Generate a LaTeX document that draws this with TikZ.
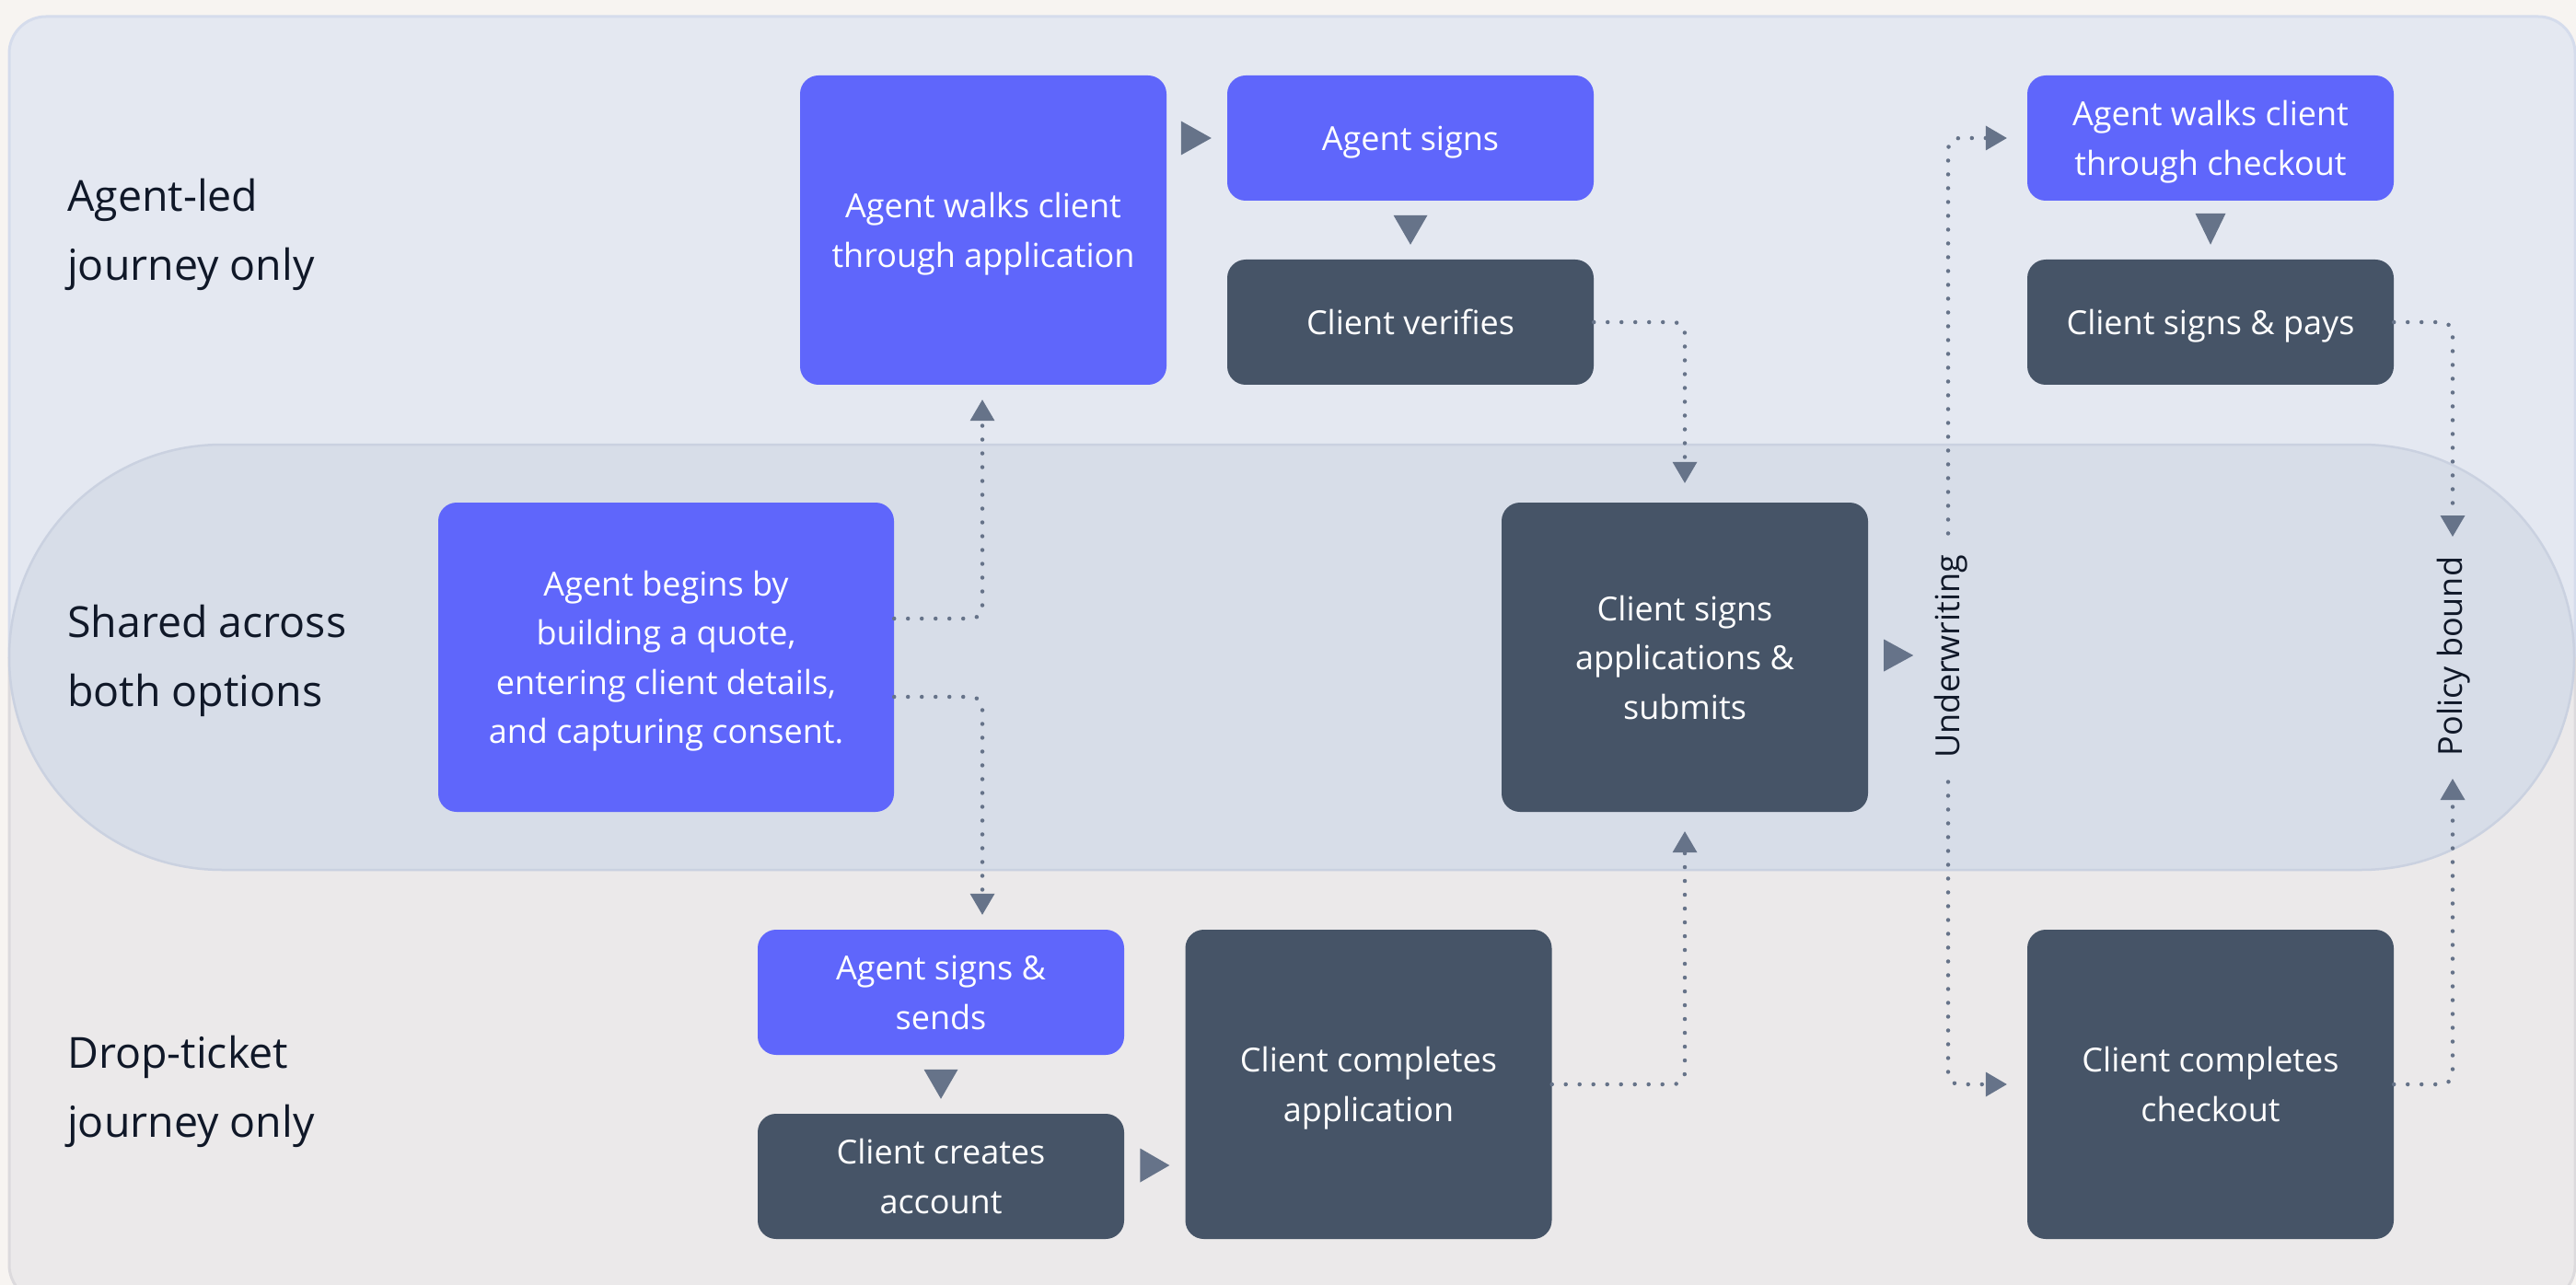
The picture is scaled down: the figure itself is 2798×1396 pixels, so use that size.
\documentclass[tikz,border=0pt]{standalone}
\usepackage{fontspec}
\setmainfont{Open Sans}
\usetikzlibrary{calc,arrows.meta}
\definecolor{pagebg}{HTML}{F7F4F1}
\definecolor{topbg}{HTML}{E4E8F1}
\definecolor{botbg}{HTML}{EBE9EA}
\definecolor{topborder}{HTML}{D5DCEC}
\definecolor{botborder}{HTML}{DCDADD}
\definecolor{bandfill}{HTML}{D7DDE8}
\definecolor{bandborder}{HTML}{CAD1E0}
\definecolor{purp}{HTML}{5F66FB}
\definecolor{darkb}{HTML}{465467}
\definecolor{arrc}{HTML}{667389}
\definecolor{ink}{HTML}{101828}
\newcommand\boxfont{\fontsize{36}{53.5}\selectfont}
\newcommand\lanefont{\fontsize{46.5}{75}\selectfont}
\newcommand\bs{\rule[-9pt]{0pt}{45pt}}
\tikzset{
  box/.style={rounded corners=20pt, text=white, align=center, minimum width=398pt, font=\boxfont, inner sep=0pt},
  pbox/.style={box, fill=purp},
  dbox/.style={box, fill=darkb},
  shortbox/.style={minimum height=136pt},
  tallbox/.style={minimum height=336pt},
  dotconn/.style={draw=arrc, line width=4.5pt, line cap=round, dash pattern=on 0pt off 15pt, rounded corners=12pt},
  tipend/.style={-{Triangle[width=27pt,length=23pt,line width=0pt]}},
  lane/.style={text=ink, align=left, anchor=west, font=\lanefont, inner sep=0pt},
  rotlabel/.style={text=ink, rotate=90, font=\boxfont, inner xsep=14pt, inner ysep=4pt}
}
\begin{document}
\begin{tikzpicture}[x=1pt,y=-1pt]
\useasboundingbox (0,0) rectangle (2798,1396);
\fill[pagebg] (0,0) rectangle (2798,1396);
% outer panel
\begin{scope}
  \clip[rounded corners=40pt] (10,18) rectangle (2797,1414);
  \fill[botbg] (0,0) rectangle (2798,1420);
  \fill[topbg] (0,0) rectangle (2798,714);
\end{scope}
\begin{scope}
  \clip (0,0) rectangle (2798,714);
  \draw[topborder, line width=3pt, rounded corners=40pt] (10,18) rectangle (2797,1414);
\end{scope}
\begin{scope}
  \clip (0,714) rectangle (2798,1420);
  \draw[botborder, line width=3pt, rounded corners=40pt] (10,18) rectangle (2797,1414);
\end{scope}
% shared band
\draw[fill=bandfill, draw=bandborder, line width=2.5pt, rounded corners=231pt] (10,483) rectangle (2796,945);

% lane labels
\node[lane] (l1) at (73,255) {Agent-led\\journey only};
\node[lane] (l2) at (73,718) {Shared across\\both options};
\node[lane] (l3) at (73,1186) {Drop-ticket\\journey only};

% boxes
\node[pbox, tallbox] (awa) at (1068,250) {\bs Agent walks client\\through application\bs};
\node[pbox, shortbox] (as) at (1532,150) {\bs Agent signs\bs};
\node[dbox, shortbox] (cv) at (1532,350) {\bs Client verifies\bs};
\node[pbox, shortbox] (awc) at (2401,150) {\bs Agent walks client\\through checkout\bs};
\node[dbox, shortbox] (csp) at (2401,350) {\bs Client signs \& pays\bs};
\node[pbox, tallbox, minimum width=495pt] (ab) at (723.5,714) {\bs Agent begins by\\building a quote,\\entering client details,\\and capturing consent.\bs};
\node[dbox, tallbox] (csa) at (1830,714) {\bs Client signs\\applications \&\\submits\bs};
\node[pbox, shortbox] (ass) at (1022,1078) {\bs Agent signs \&\\sends\bs};
\node[dbox, shortbox] (cca) at (1022,1278) {\bs Client creates\\account\bs};
\node[dbox, tallbox] (ccapp) at (1486.5,1178) {\bs Client completes\\application\bs};
\node[dbox, tallbox] (ccc) at (2401,1178) {\bs Client completes\\checkout\bs};

% solid arrowheads
\fill[arrc] ($(as.west)+(-17,0)$) -- ++(-33,-18.5) -- ++(0,37) -- cycle;
\fill[arrc] ($(cv.north)+(0,-16)$) -- ++(-18.5,-32) -- ++(37,0) -- cycle;
\fill[arrc] ($(csp.north)+(0,-16)$) -- ++(-16.5,-34) -- ++(33,0) -- cycle;
\fill[arrc] ($(csa.east)+(49,-2)$) -- ++(-32,-17.5) -- ++(0,35) -- cycle;
\fill[arrc] ($(cca.north)+(0,-16)$) -- ++(-18.5,-32) -- ++(37,0) -- cycle;
\fill[arrc] ($(ccapp.west |- cca.east)+(-17,-12)$) -- ++(-32,-18.5) -- ++(0,37) -- cycle;

% dotted connectors
\draw[dotconn, tipend] ($(ab.east)+(0,-42)$) -| ($(awa.south)+(-1,16)$);
\draw[dotconn, tipend] ($(ab.east)+(0,43)$) -| ($(ass.north)+(45,-16)$);
\draw[dotconn, tipend] (cv.east) -| ($(csa.north)+(0,-21)$);
\draw[dotconn, tipend] (ccapp.east) -| ($(csa.south)+(0,21)$);

% underwriting
\coordinate (uwc) at (2116,713);
\draw[dotconn, {Triangle[width=27pt,length=23pt,line width=0pt]}-{Triangle[width=27pt,length=23pt,line width=0pt]}]
  ($(awc.west)+(-22,0)$) -| (uwc) |- ($(ccc.west)+(-22,0)$);
\node[rotlabel, fill=bandfill] (uw) at (2119,713) {Underwriting};

% policy bound
\node[rotlabel] (pb) at (2665,713) {Policy bound};
\draw[dotconn, tipend] (csp.east) -| ($(pb.center)+(-1,-130)$);
\draw[dotconn, tipend] (ccc.east) -| ($(pb.center)+(-1,133)$);
\end{tikzpicture}
\end{document}
